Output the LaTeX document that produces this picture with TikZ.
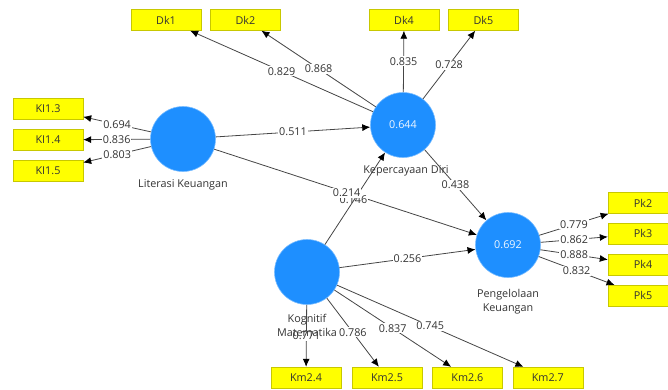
\documentclass[tikz,border=0pt]{standalone}
\usepackage{fontspec}
\setmainfont{Open Sans}
\usepackage{xcolor}
\usetikzlibrary{arrows.meta, positioning}

\definecolor{lvblue}{HTML}{1E8FFF}
\definecolor{indyellow}{HTML}{FFFF00}
\definecolor{indborder}{HTML}{C8C800}
\definecolor{txtgrey}{HTML}{333333}
\definecolor{linegrey}{HTML}{454545}

\begin{document}
\begin{tikzpicture}[
      x=1pt, y=-1pt,
      node distance=9.5pt and 9pt,
      font=\fontsize{10.8}{14}\selectfont,
      lv/.style={circle, fill=lvblue, draw=lvblue!60!white, line width=0.6pt, minimum size=65pt, inner sep=0pt, text=white!92!lvblue},
      ind/.style={draw=indborder, fill=indyellow, minimum width=70pt, minimum height=21pt, inner sep=0pt, text=txtgrey},
      lvname/.style={text=txtgrey, align=center},
      arr/.style={draw=linegrey, line width=0.8pt, -{Latex[length=8pt, width=7pt, black]}},
      coef/.style={fill=white, inner sep=1pt, text=txtgrey}
    ]
    \useasboundingbox (0,0) rectangle (668,389);
    \clip (0,0) rectangle (668,389);

    % latent variables
    \node[lv] (lit) at (183,139) {};
    \node[lv] (kep) at (403,125) {0.644};
    \node[lv] (kog) at (307,272) {};
    \node[lv] (peng) at (508,245) {0.692};

    % indicators
    \node[ind] (kl13) at (48,109) {KI1.3};
    \node[ind, below=of kl13] (kl14) {KI1.4};
    \node[ind, below=of kl14] (kl15) {KI1.5};
    \node[ind] (dk1) at (166,20) {Dk1};
    \node[ind, right=of dk1] (dk2) {Dk2};
    \node[ind] (dk4) at (404,20) {Dk4};
    \node[ind, right=of dk4] (dk5) {Dk5};
    \node[ind] (pk2) at (643,203) {Pk2};
    \node[ind, below=of pk2] (pk3) {Pk3};
    \node[ind, below=of pk3] (pk4) {Pk4};
    \node[ind, below=of pk4] (pk5) {Pk5};
    \node[ind] (km24) at (306,377.5) {Km2.4};
    \node[ind] (km25) at (387,377.5) {Km2.5};
    \node[ind, right=10pt of km25] (km26) {Km2.6};
    \node[ind, right=10pt of km26] (km27) {Km2.7};

    % outer loadings
    \draw[arr] (lit) -- node[coef] {0.694} (kl13);
    \draw[arr] (lit) -- node[coef] {0.836} (kl14);
    \draw[arr] (lit) -- node[coef] {0.803} (kl15);
    \draw[arr] (kep) -- node[coef] {0.829} (dk1);
    \draw[arr] (kep) -- node[coef] {0.868} (dk2);
    \draw[arr] (kep) -- node[coef] {0.835} (dk4);
    \draw[arr] (kep) -- node[coef] {0.728} (dk5);
    \draw[arr] (peng) -- node[coef] {0.779} (pk2);
    \draw[arr] (peng) -- node[coef] {0.862} (pk3);
    \draw[arr] (peng) -- node[coef] {0.888} (pk4);
    \draw[arr] (peng) -- node[coef] {0.832} (pk5);
    \draw[arr] (kog) -- node[coef] {0.771} (km24);
    \draw[arr] (kog) -- node[coef] {0.786} (km25);
    \draw[arr] (kog) -- node[coef] {0.837} (km26);
    \draw[arr] (kog) -- node[coef] {0.745} (km27);

    % path coefficients
    \draw[arr] (lit) -- node[coef] {0.511} (kep);
    \draw[arr] (lit) -- node[coef, pos=0.53, yshift=-5pt] {0.146} (peng);
    \draw[arr] (kog) -- node[coef, pos=0.56, xshift=-12pt] {0.214} (kep);
    \draw[arr] (kog) -- node[coef] {0.256} (peng);
    \draw[arr] (kep) -- node[coef] {0.438} (peng);

    % construct names
    \node[lvname] (litname) at (183,185) {Literasi Keuangan};
    \node[lvname] (kepname) at (406,171) {Kepercayaan Diri};
    \node[lvname] (kogname) at (307,325.5) {Kognitif\\Matematika};
    \node[lvname] (pengname) at (508,301.5) {Pengelolaan\\Keuangan};
  \end{tikzpicture}
\end{document}
